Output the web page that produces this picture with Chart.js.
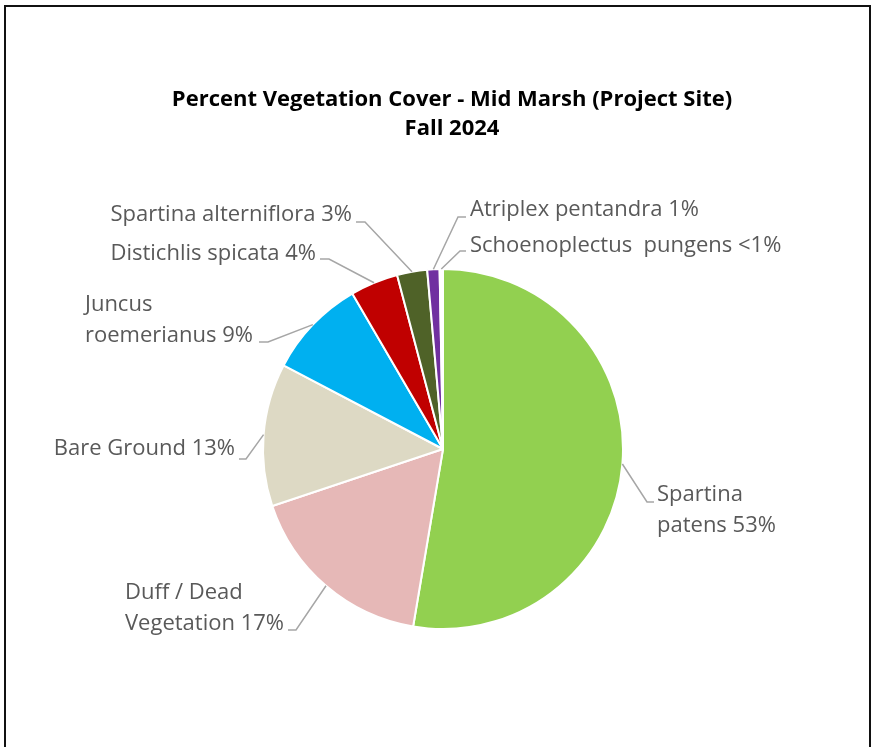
<!DOCTYPE html>
<html>
<head>
<meta charset="utf-8">
<script src="https://cdn.jsdelivr.net/npm/chart.js@4/dist/chart.umd.min.js"></script>
<style>
	body { margin: 0; background: #fff; }
	#wrap { position: relative; width: 872px; height: 747px; overflow: hidden; }
	#frame { position: absolute; left: 4px; top: 5px; width: 867px; height: 800px; border: 2px solid #111; box-sizing: border-box; }
	#vegChart { position: absolute; left: 0; top: 0; }
</style>
</head>
<body>
<div id="wrap">
	<div id="frame"></div>
	<canvas id="vegChart" width="872" height="747"></canvas>
</div>
<script>
// data (clockwise from 12 o'clock)
var categories = ['Spartina patens', 'Duff / Dead Vegetation', 'Bare Ground', 'Juncus roemerianus',
	'Distichlis spicata', 'Spartina alterniflora', 'Atriplex pentandra', 'Schoenoplectus pungens'];
var coverValues = [52.6, 17.2, 12.8, 8.9, 4.3, 2.7, 1.1, 0.3];
var labelTexts = [
	['Spartina', 'patens 53%'],
	['Duff / Dead', 'Vegetation 17%'],
	['Bare Ground 13%'],
	['Juncus', 'roemerianus 9%'],
	['Distichlis spicata 4%'],
	['Spartina alterniflora 3%'],
	['Atriplex pentandra 1%'],
	['Schoenoplectus  pungens <1%']
];
var titleLines = ['Percent Vegetation Cover - Mid Marsh (Project Site)', 'Fall 2024'];

var sliceColors = ['#92D050', '#E6B8B7', '#DDD9C4', '#00B0F0', '#C00000', '#4F6228', '#7030A0', '#FFFFFF'];

// label placement: side of the text block, text x edge, first line centre y, elbow and end of leader
var labelLayout = [
	{side: 'left',  x: 657, y: 495, elbow: [647, 502], end: [654, 502]},
	{side: 'right', x: 284, y: 593, elbow: [296, 630], end: [288, 630]},
	{side: 'right', x: 235, y: 449, elbow: [246, 459], end: [239, 459]},
	{side: 'right', x: 253, y: 305, elbow: [268, 342], end: [259, 342]},
	{side: 'right', x: 316, y: 254, elbow: [329, 259], end: [320, 259]},
	{side: 'right', x: 352, y: 215, elbow: [365, 222], end: [356, 222]},
	{side: 'left',  x: 470, y: 210, elbow: [458, 217], end: [466, 217]},
	{side: 'left',  x: 470, y: 246, elbow: [460, 251], end: [466, 251]}
];

var labelFont = '22px "Open Sans"';
var lineHeight = 31;

var leaderLabels = {
	id: 'leaderLabels',
	afterDraw: function(chart) {
		var ctx = chart.ctx;
		var arcs = chart.getDatasetMeta(0).data;
		ctx.save();

		// title
		ctx.fillStyle = '#000';
		ctx.font = 'bold 22px "Open Sans"';
		ctx.textAlign = 'center';
		ctx.textBaseline = 'middle';
		ctx.fillText(titleLines[0], 452, 100);
		ctx.fillText(titleLines[1], 452, 129);

		ctx.font = labelFont;
		for (var i = 0; i < arcs.length; i++) {
			var p = arcs[i].getProps(['x', 'y', 'startAngle', 'endAngle', 'outerRadius'], true);
			var a = (p.startAngle + p.endAngle) / 2;
			var ax = p.x + Math.cos(a) * p.outerRadius;
			var ay = p.y + Math.sin(a) * p.outerRadius;
			var lay = labelLayout[i];

			ctx.strokeStyle = '#A6A6A6';
			ctx.lineWidth = 1.5;
			ctx.beginPath();
			ctx.moveTo(ax, ay);
			ctx.lineTo(lay.elbow[0], lay.elbow[1]);
			ctx.lineTo(lay.end[0], lay.end[1]);
			ctx.stroke();

			var lines = labelTexts[i];
			var maxW = 0;
			for (var j = 0; j < lines.length; j++) {
				maxW = Math.max(maxW, ctx.measureText(lines[j]).width);
			}
			var left = lay.side === 'left' ? lay.x : lay.x - maxW;
			ctx.fillStyle = '#595959';
			ctx.textAlign = 'left';
			for (var j = 0; j < lines.length; j++) {
				ctx.fillText(lines[j], left, lay.y + j * lineHeight);
			}
		}
		ctx.restore();
	}
};

var config = {
	type: 'pie',
	data: {
		labels: categories,
		datasets: [{
			data: coverValues,
			backgroundColor: sliceColors,
			borderColor: '#FFFFFF',
			borderWidth: 2
		}]
	},
	options: {
		responsive: false,
		animation: false,
		layout: {
			padding: {top: 268, bottom: 117, left: 143, right: 129}
		},
		plugins: {
			legend: {display: false},
			title: {display: false},
			tooltip: {enabled: false}
		}
	},
	plugins: [leaderLabels]
};

var myChart = new Chart(document.getElementById('vegChart'), config);
</script>
</body>
</html>
